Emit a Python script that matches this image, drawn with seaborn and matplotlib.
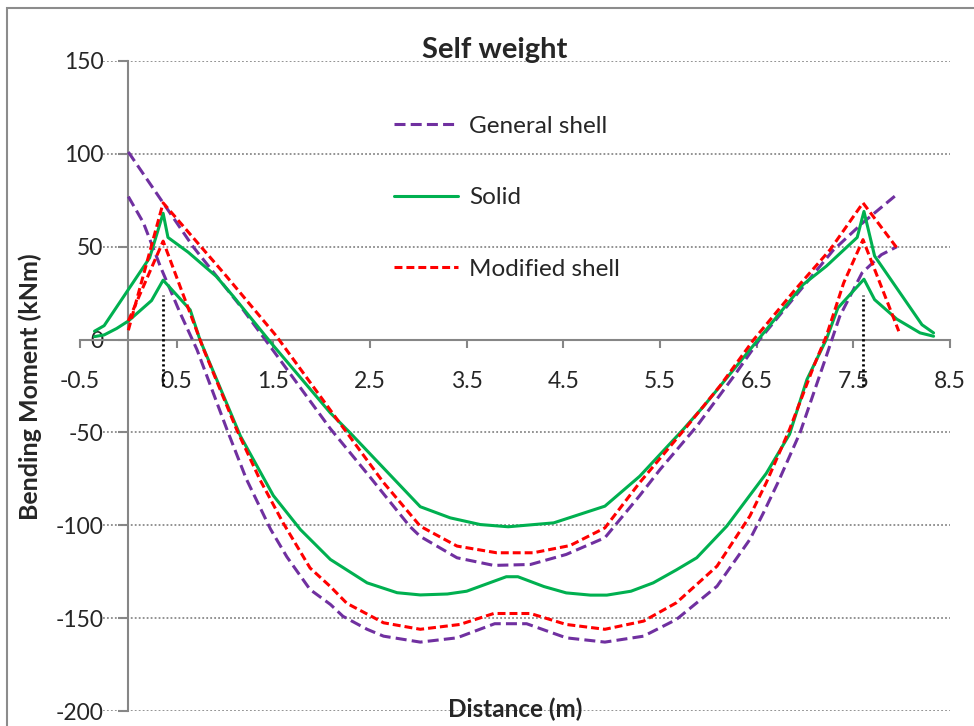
import matplotlib
matplotlib.use("Agg")
import matplotlib.pyplot as plt
import seaborn as sns
import pandas as pd
from matplotlib.lines import Line2D
from matplotlib.patches import Rectangle

# ---------------- data ----------------
series_names = ["General shell", "Solid", "Modified shell"]

gs_a_x = [0.0, 0.67, 1.16, 1.5, 2.09, 2.5, 2.91, 3.02, 3.40, 3.78, 4.16, 4.53, 4.93, 5.29, 5.50, 5.88, 6.26, 6.53, 7.29, 7.60, 7.97]
gs_a_y = [101, 50, 18, -6, -48, -74, -100.5, -106, -117.5, -121.6, -121.1, -115.7, -106.7, -84, -70, -46.7, -20, 0, 48, 63, 79]

gs_b_x = [0.0, 0.155, 0.33, 0.535, 0.71, 1.02, 1.22, 1.47, 1.64, 1.88, 2.09, 2.22, 2.47, 2.64, 3.02, 3.40, 3.79, 4.12, 4.53, 4.93, 5.33, 5.67, 6.09, 6.43, 6.57, 6.72, 6.95, 7.22, 7.36, 7.59, 7.79, 7.95]
gs_b_y = [77, 63, 39.5, 14.4, -5.4, -48.4, -75, -102, -117, -134.6, -142.6, -149, -156, -159.7, -162.9, -160.6, -153, -153, -160.6, -162.9, -159.7, -150.7, -132.8, -107.6, -93.3, -77, -50, -9, 12.6, 35.9, 45.7, 50]

so_a_x = [-0.35, -0.25, 0.22, 0.36, 0.41, 0.62, 0.91, 1.09, 1.48, 2.09, 2.29, 3.02, 3.33, 3.64, 3.93, 4.40, 4.93, 5.29, 5.74, 5.95, 6.5, 6.98, 7.22, 7.54, 7.61, 7.72, 8.21, 8.33]
so_a_y = [4.5, 7.5, 44, 68, 55, 47, 34, 23, -2, -39.5, -50, -90, -96, -99.6, -100.8, -98.7, -89.7, -73.6, -48.4, -36, -1, 29.6, 39.5, 55, 69, 45, 8, 3.6]

so_b_x = [-0.35, -0.25, -0.12, 0.0, 0.24, 0.36, 0.64, 0.74, 1.16, 1.5, 1.78, 2.09, 2.47, 2.78, 3.02, 3.3, 3.5, 3.91, 4.03, 4.3, 4.53, 4.78, 4.95, 5.2, 5.43, 5.67, 5.88, 6.19, 6.6, 6.84, 7.02, 7.22, 7.34, 7.61, 7.72, 7.95, 8.19, 8.33]
so_b_y = [1.6, 2.5, 6, 10, 21, 32, 16, 0, -52, -84, -102.3, -118.4, -131, -136.3, -137.5, -137, -135.5, -127.7, -127.7, -133, -136.4, -137.6, -137.6, -135.5, -131, -124, -117.5, -100.5, -72, -51, -21.5, 0, 17, 32.5, 21.5, 11, 3.6, 1.8]

ms_a_x = [0.0, 0.36, 1.0, 1.53, 2.16, 2.64, 3.02, 3.40, 3.81, 4.19, 4.57, 4.93, 5.29, 5.78, 6.12, 6.47, 6.9, 7.26, 7.60, 7.95]
ms_a_y = [5, 73.6, 35, 2, -43, -77, -100.5, -111.2, -114.8, -114.8, -110.9, -101.4, -77, -46.7, -25, 0, 27, 48.4, 73.6, 49.4]

ms_b_x = [0.0, 0.36, 0.78, 1.12, 1.36, 1.6, 1.88, 2.09, 2.26, 2.64, 3.02, 3.43, 3.78, 4.16, 4.53, 4.93, 5.33, 5.67, 6.09, 6.43, 6.6, 6.84, 7.09, 7.22, 7.40, 7.60, 7.97]
ms_b_y = [10, 53, -5.4, -48.4, -75.3, -98.6, -123, -133, -142, -152.5, -156, -153.4, -147.5, -147.5, -153.4, -156, -151.6, -141.7, -122, -95, -77, -48.4, -14.4, 1.8, 30.5, 53.8, 4.5]

support_x = [0.36, 7.6]
support_y_top = [24, 24]
support_y_bottom = [-25, -25]

x_ticks = [-0.5, 0.5, 1.5, 2.5, 3.5, 4.5, 5.5, 6.5, 7.5, 8.5]
y_ticks = [-200, -150, -100, -50, 0, 50, 100, 150]

# ---------------- styles ----------------
colors = {"General shell": "#7030A0", "Solid": "#00B050", "Modified shell": "#FF0000"}
dashes = {"General shell": (3.6, 1.7), "Solid": None, "Modified shell": (2.6, 1.3)}
LW = 2.2

rows = []
for name, branch, xs, ys in [
    ("General shell", "a", gs_a_x, gs_a_y), ("General shell", "b", gs_b_x, gs_b_y),
    ("Solid", "a", so_a_x, so_a_y), ("Solid", "b", so_b_x, so_b_y),
    ("Modified shell", "a", ms_a_x, ms_a_y), ("Modified shell", "b", ms_b_x, ms_b_y),
]:
    for x, y in zip(xs, ys):
        rows.append({"series": name, "branch": branch, "x": x, "y": y})
df = pd.DataFrame(rows)

sns.set_style("white")
plt.rcParams["font.family"] = ["Lato", "DejaVu Sans"]

fig = plt.figure(figsize=(9.74, 7.26), dpi=100)
ax = fig.add_axes([80 / 974, 1 - 711 / 726, 870 / 974, 650 / 726])
ax.set_facecolor("none")

# gridlines
ax.hlines([v for v in y_ticks if v != 0], -0.262, 8.5, colors="#8a8a8a",
          linestyles=(0, (1, 1.2)), lw=1.3, zorder=1)

for name in series_names:
    for branch in ["a", "b"]:
        sub = df[(df.series == name) & (df.branch == branch)]
        sns.lineplot(data=sub, x="x", y="y", ax=ax, color=colors[name], lw=LW,
                     sort=False, estimator=None, legend=False, zorder=3)
        ln = ax.lines[-1]
        if dashes[name] is not None:
            ln.set_dashes(dashes[name])

ax.vlines(support_x, support_y_bottom, support_y_top, colors="black",
          linestyles=(0, (0.8, 1.0)), lw=2.0, zorder=4)

ax.set_xlim(-0.5, 8.5)
ax.set_ylim(-200, 150)
ax.set_xticks(x_ticks)
ax.set_xticklabels([f"{v:g}" for v in x_ticks])
ax.set_yticks(y_ticks)
ax.set_yticklabels([f"{v:g}" for v in y_ticks])
ax.set_xlabel("")
ax.set_ylabel("")

for s in ["top", "right"]:
    ax.spines[s].set_visible(False)
ax.spines["left"].set_position(("data", 0))
ax.spines["bottom"].set_position(("data", 0))
for s in ["left", "bottom"]:
    ax.spines[s].set_color("#868686")
    ax.spines[s].set_linewidth(1.5)
    ax.spines[s].set_zorder(2)

ax.tick_params(axis="y", direction="out", length=7, width=1.5, color="#868686",
               labelsize=16.5, pad=11, left=True)
ax.tick_params(axis="x", direction="out", length=6, width=1.5, color="#868686",
               labelsize=16.5, pad=16.5, bottom=True)

# legend
handles = [Line2D([], [], color=colors[n], lw=LW) for n in series_names]
for h, n in zip(handles, series_names):
    if dashes[n] is not None:
        h.set_dashes(dashes[n])
leg = fig.legend(handles, series_names, loc="upper left",
                 bbox_to_anchor=(372 / 974, 1 - 94 / 726), frameon=False,
                 fontsize=17.5, handlelength=2.65, handletextpad=0.45, labelspacing=2.07)

# titles
fig.text(495 / 974, 1 - 58 / 726, "Self weight", ha="center", va="baseline",
         fontsize=21, fontweight="bold")
fig.text(515 / 974, 1 - 717 / 726, "Distance (m)", ha="center", va="baseline",
         fontsize=17.5, fontweight="bold")
fig.text(30 / 974, 1 - 387 / 726, "Bending Moment (kNm)", ha="center", va="center",
         rotation=90, fontsize=18, fontweight="bold")

# chart border
fig.patches.append(Rectangle((7 / 974, -0.5), 2, 0.5 + 1 - 8 / 726, transform=fig.transFigure,
                             fill=False, edgecolor="#8c8c8c", lw=1.5))

fig.savefig("out.png", dpi=100)
